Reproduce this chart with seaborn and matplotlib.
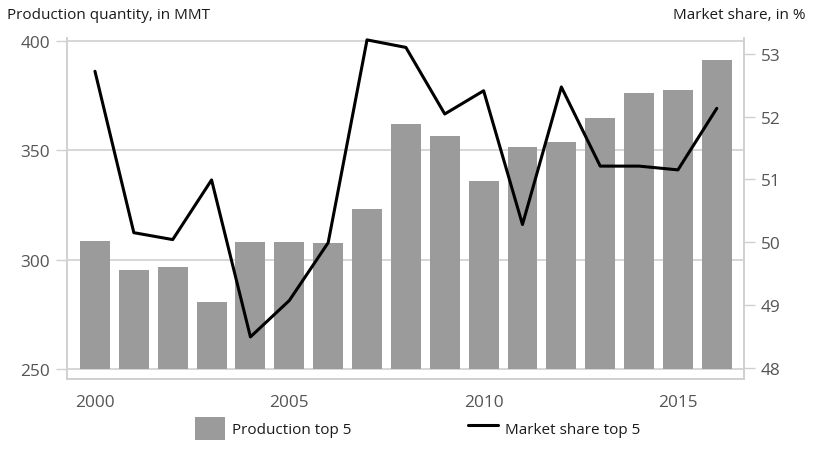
import matplotlib
matplotlib.use("Agg")
import matplotlib.pyplot as plt
import seaborn as sns
from matplotlib.patches import Patch
from matplotlib.lines import Line2D

# data
years = [2000, 2001, 2002, 2003, 2004, 2005, 2006, 2007, 2008,
         2009, 2010, 2011, 2012, 2013, 2014, 2015, 2016]
production = [308.5, 295.3, 296.6, 280.6, 308.1, 308.0, 307.6, 323.2, 362.0,
              356.5, 336.0, 351.5, 353.8, 364.8, 376.2, 377.6, 391.3]
market_share = [52.72, 50.15, 50.04, 50.99, 48.49, 49.07, 49.99, 53.22, 53.10,
                52.04, 52.41, 50.28, 52.47, 51.21, 51.21, 51.15, 52.13]
base = 250

sns.set_style("white")
plt.rcParams["font.family"] = ["Open Sans", "DejaVu Sans"]

grid_col = "#d0d0d0"
tick_col = "#555555"
bar_col = "#9b9b9b"

fig = plt.figure(figsize=(8.15, 4.52), dpi=100)
ax = fig.add_axes([0.0822, 0.1593, 0.8307, 0.7544])

# gridlines first, bars on top of them
ax.set_axisbelow(True)
ax.yaxis.grid(True, color=grid_col, linewidth=1.2)

# bars drawn up from the 250 baseline
sns.barplot(x=years, y=[p - base for p in production], bottom=base,
            native_scale=True, width=0.77, color=bar_col,
            saturation=1, edgecolor="none", ax=ax, zorder=3)
ax.set_xlim(1999.28, 2016.7)
ax.set_ylim(245.4, 401.4)
ax.set_yticks([250, 300, 350, 400])
ax.set_xticks([2000, 2005, 2010, 2015])
ax.set_xticklabels(["2000", "2005", "2010", "2015"])
ax.set_xlabel("")
ax.set_ylabel("")

ax2 = ax.twinx()
sns.lineplot(x=years, y=market_share, color="black", linewidth=2.2, ax=ax2)
ax2.set_ylim(47.82, 53.25)
ax2.set_yticks([48, 49, 50, 51, 52, 53])
ax2.set_ylabel("")
ax2.grid(False)

for a in (ax, ax2):
    for side in ("left", "right", "bottom"):
        a.spines[side].set_visible(True)
        a.spines[side].set_color(grid_col)
        a.spines[side].set_linewidth(1.2)
    a.spines["top"].set_visible(False)
    a.tick_params(colors=tick_col, labelsize=12.4, length=8, width=1,
                  color=grid_col, pad=4)
ax.tick_params(axis="x", pad=3)

fig.text(0.009, 0.965, "Production quantity, in MMT", fontsize=11,
         color="#1a1a1a", ha="left", va="center")
fig.text(0.988, 0.965, "Market share, in %", fontsize=11,
         color="#1a1a1a", ha="right", va="center")

handles = [Patch(facecolor=bar_col, edgecolor="none"),
           Line2D([0], [0], color="black", linewidth=2.2)]
fig.legend(handles, ["Production top 5", "Market share top 5"],
           loc="center left", bbox_to_anchor=(0.222, 0.05), ncol=2,
           frameon=False, fontsize=11, handlelength=2.0, handleheight=2.0,
           handletextpad=0.45, columnspacing=7.6, labelcolor="#1a1a1a")

fig.savefig("out.png", dpi=100)
